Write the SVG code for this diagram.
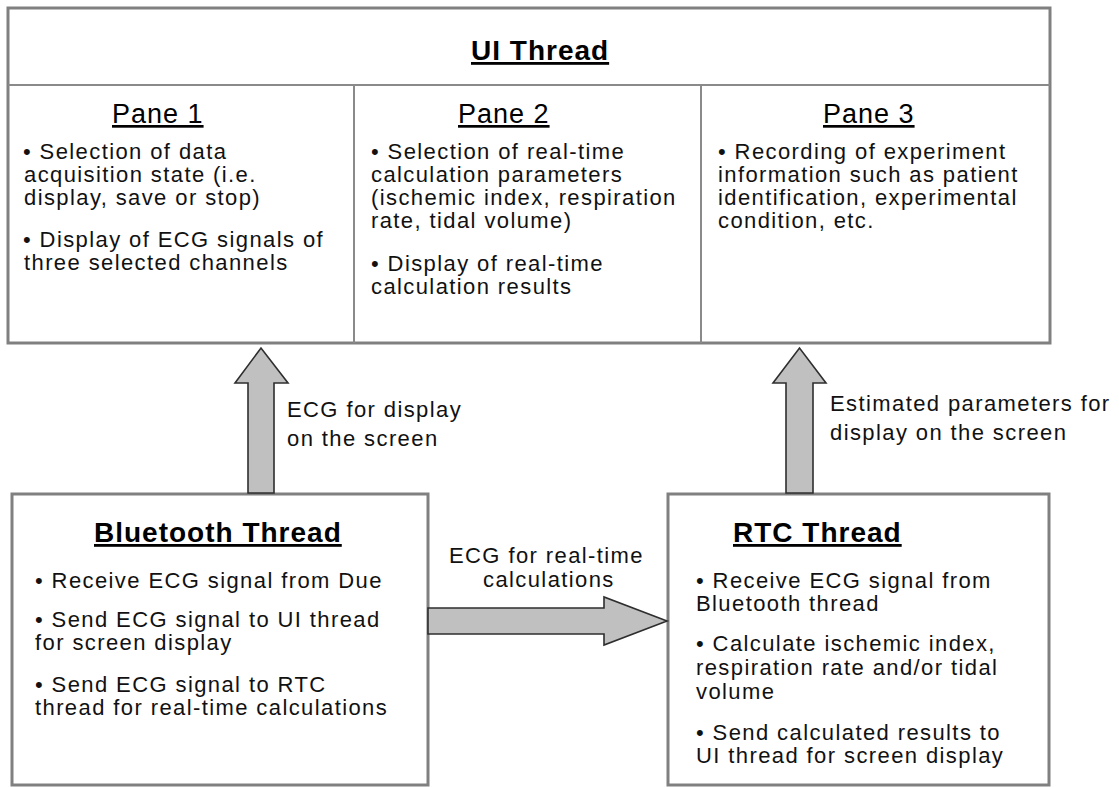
<svg xmlns="http://www.w3.org/2000/svg" width="1119" height="787" viewBox="0 0 1119 787">
  <style>
    .box { fill: #ffffff; stroke: #808080; stroke-width: 3; }
    .divider { stroke: #8a8a8a; stroke-width: 2; fill: none; }
    .arrow { fill: #c0c0c0; stroke: #2e2e2e; stroke-width: 1.6; stroke-linejoin: miter; }
    .txt { font-family: "Liberation Sans", Arial, sans-serif; font-size: 22px; letter-spacing: 1.4px; fill: #111; }
    .title { font-family: "Liberation Sans", Arial, sans-serif; font-size: 28px; font-weight: bold; letter-spacing: 1px; fill: #000; text-decoration: underline; }
    .pane { font-family: "Liberation Sans", Arial, sans-serif; font-size: 27px; letter-spacing: 1px; fill: #000; text-decoration: underline; }
  </style>
  <rect x="0" y="0" width="1119" height="787" fill="#ffffff"/>

  <!-- UI thread with its three panes -->
  <g id="ui-thread">
    <rect class="box" x="8" y="8" width="1042" height="335"/>
    <line class="divider" x1="8" y1="85" x2="1050" y2="85"/>
    <line class="divider" x1="354" y1="85" x2="354" y2="343"/>
    <line class="divider" x1="701" y1="85" x2="701" y2="343"/>
    <text class="title" x="471" y="60">UI Thread</text>
  </g>

  <g id="pane-1">
    <text class="pane" x="112" y="123">Pane 1</text>
    <text class="txt" x="23" y="159">• Selection of data</text>
    <text class="txt" x="24" y="182">acquisition state (i.e.</text>
    <text class="txt" x="24" y="205">display, save or stop)</text>
    <text class="txt" x="23" y="247">• Display of ECG signals of</text>
    <text class="txt" x="24" y="270">three selected channels</text>
  </g>

  <g id="pane-2">
    <text class="pane" x="458" y="123">Pane 2</text>
    <text class="txt" x="371" y="159">• Selection of real-time</text>
    <text class="txt" x="371" y="182">calculation parameters</text>
    <text class="txt" x="371" y="205">(ischemic index, respiration</text>
    <text class="txt" x="371" y="228">rate, tidal volume)</text>
    <text class="txt" x="371" y="271">• Display of real-time</text>
    <text class="txt" x="371" y="294">calculation results</text>
  </g>

  <g id="pane-3">
    <text class="pane" x="823" y="123">Pane 3</text>
    <text class="txt" x="718" y="159">• Recording of experiment</text>
    <text class="txt" x="718" y="182">information such as patient</text>
    <text class="txt" x="718" y="205">identification, experimental</text>
    <text class="txt" x="718" y="228">condition, etc.</text>
  </g>

  <!-- Bluetooth thread -->
  <g id="bluetooth-thread">
    <rect class="box" x="12" y="494" width="416" height="291"/>
    <text class="title" x="94" y="542">Bluetooth Thread</text>
    <text class="txt" x="35" y="588">• Receive ECG signal from Due</text>
    <text class="txt" x="35" y="627">• Send ECG signal to UI thread</text>
    <text class="txt" x="35" y="650">for screen display</text>
    <text class="txt" x="35" y="692">• Send ECG signal to RTC</text>
    <text class="txt" x="35" y="715">thread for real-time calculations</text>
  </g>

  <!-- RTC thread -->
  <g id="rtc-thread">
    <rect class="box" x="668" y="494" width="381" height="291"/>
    <text class="title" x="733" y="542">RTC Thread</text>
    <text class="txt" x="696" y="588">• Receive ECG signal from</text>
    <text class="txt" x="696" y="611">Bluetooth thread</text>
    <text class="txt" x="696" y="651">• Calculate ischemic index,</text>
    <text class="txt" x="696" y="675">respiration rate and/or tidal</text>
    <text class="txt" x="696" y="699">volume</text>
    <text class="txt" x="696" y="740">• Send calculated results to</text>
    <text class="txt" x="696" y="763">UI thread for screen display</text>
  </g>

  <!-- block arrows between threads -->
  <g id="connectors">
    <polygon class="arrow" points="248,493 248,383 235,383 261,348 288,383 274,383 274,493"/>
    <polygon class="arrow" points="786,493 786,383 773,383 799.5,348 826,383 813,383 813,493"/>
    <polygon class="arrow" points="428,608 604,608 604,597 667,621 604,645 604,634 428,634"/>
    <text class="txt" x="287" y="417">ECG for display</text>
    <text class="txt" x="287" y="446">on the screen</text>
    <text class="txt" x="830" y="411">Estimated parameters for</text>
    <text class="txt" x="830" y="440">display on the screen</text>
    <text class="txt" x="449" y="563">ECG for real-time</text>
    <text class="txt" x="483" y="587">calculations</text>
  </g>
</svg>
